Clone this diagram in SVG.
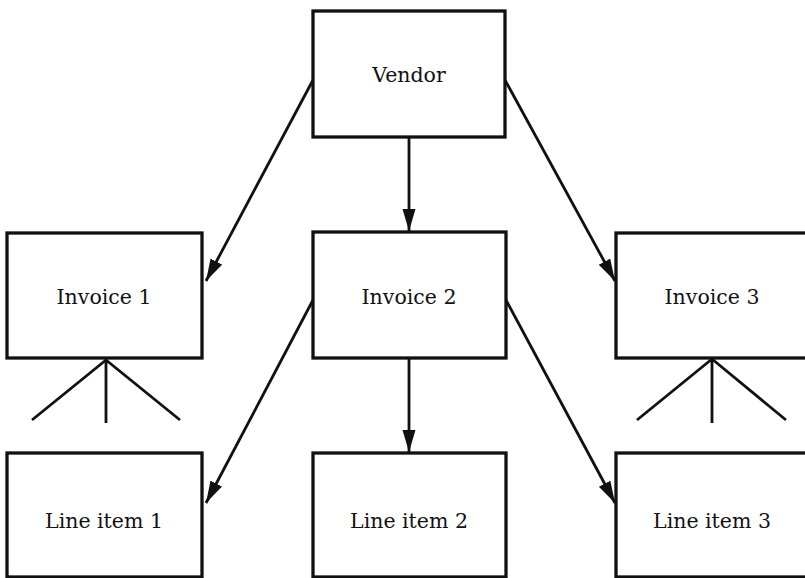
<svg xmlns="http://www.w3.org/2000/svg" width="805" height="578" viewBox="0 0 805 578">
<style>
.box{fill:#fff;stroke:#111;stroke-width:3.3}
.lbl{font-family:"DejaVu Serif","Liberation Serif",serif;font-size:20.5px;fill:#111;text-anchor:middle}
.con{stroke:#111;stroke-width:2.8;fill:none}
</style>
<defs>
<marker id="ah" markerUnits="userSpaceOnUse" markerWidth="24" markerHeight="14" refX="22" refY="6.5" orient="auto">
<path d="M0,0 L22,6.5 L0,13 Z" fill="#111"/>
</marker>
</defs>
<rect width="805" height="578" fill="#fff"/>
<g id="vendor"><rect class="box" x="313" y="11" width="192" height="126"/><text class="lbl" x="409" y="82">Vendor</text></g>
<g id="invoice1"><rect class="box" x="7" y="233" width="195" height="125"/><text class="lbl" x="104" y="304">Invoice 1</text></g>
<g id="invoice2"><rect class="box" x="313" y="232" width="193" height="126"/><text class="lbl" x="409" y="304">Invoice 2</text></g>
<g id="invoice3"><rect class="box" x="616" y="233" width="195" height="125"/><text class="lbl" x="712" y="304">Invoice 3</text></g>
<g id="lineitem1"><rect class="box" x="7" y="453" width="195" height="124"/><text class="lbl" x="104" y="528">Line item 1</text></g>
<g id="lineitem2"><rect class="box" x="313" y="453" width="193" height="124"/><text class="lbl" x="409" y="528">Line item 2</text></g>
<g id="lineitem3"><rect class="box" x="616" y="453" width="195" height="124"/><text class="lbl" x="712" y="528">Line item 3</text></g>
<g id="connectors">
<line class="con" x1="313" y1="80" x2="206" y2="281" marker-end="url(#ah)"/>
<line class="con" x1="409" y1="137" x2="409" y2="231" marker-end="url(#ah)"/>
<line class="con" x1="505" y1="80" x2="615" y2="281" marker-end="url(#ah)"/>
<line class="con" x1="313" y1="300" x2="206" y2="503" marker-end="url(#ah)"/>
<line class="con" x1="409" y1="358" x2="409" y2="452" marker-end="url(#ah)"/>
<line class="con" x1="506" y1="300" x2="615" y2="503" marker-end="url(#ah)"/>
<path class="con" d="M32,420 L106,360 L180,420 M106,360 L106,423"/>
<path class="con" d="M637,420 L712,359 L786,420 M712,359 L712,423"/>
</g>
</svg>
